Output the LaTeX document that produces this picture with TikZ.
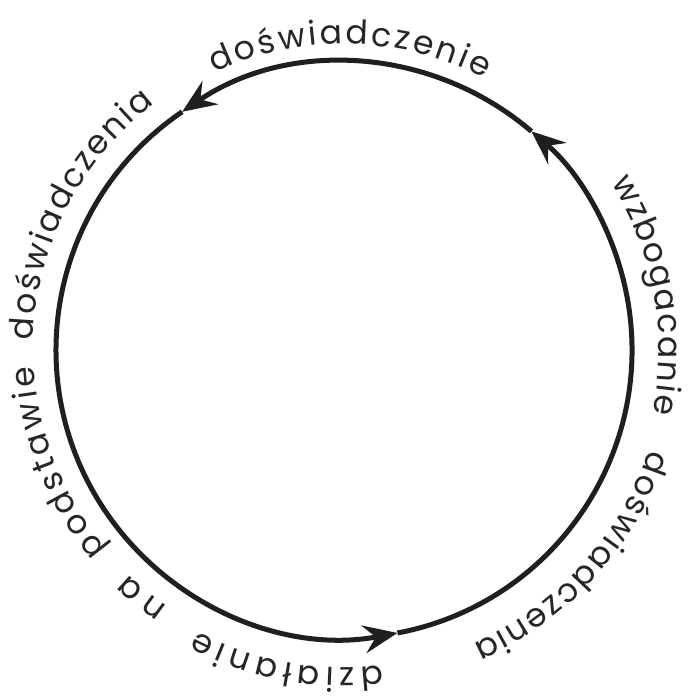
\documentclass[tikz,border=0pt]{standalone}
\usepackage{fontspec}
\newfontfamily\wfont{Poppins}
\usetikzlibrary{arrows.meta,decorations.text}
\newcommand\lblfont{\wfont\fontsize{33}{36}\selectfont}
\tikzset{
  ring/.style={line width=5pt, draw=black!88},
  tipend/.style={-{Stealth[length=34pt,width=28pt,inset=12pt]}},
  wordarc/.style={decorate, decoration={text along path, text={|\lblfont\color{black!85}|#1}, text align=fit to path}}
}
\begin{document}
\begin{tikzpicture}[x=1pt,y=1pt]
\useasboundingbox (0,0) rectangle (688,698);
\coordinate (C) at (344,348);
\path (C) ++(49.4:288pt) coordinate (pA);
\path (C) ++(124.2:288pt) coordinate (pB);
\path (C) ++(-79.3:288pt) coordinate (pC);
% circle with three arrowheads (counter-clockwise)
\draw[ring,tipend] (pC) arc[start angle=-79.3, end angle=49.4, radius=288pt];
\draw[ring,tipend] (pA) arc[start angle=49.4, end angle=124.2, radius=288pt];
\draw[ring,tipend] (pB) arc[start angle=124.2, end angle=280.7, radius=288pt];
% labels along the circle (clockwise, outward)
\path[wordarc={doświadczenie}] (C) ++(115:306pt) arc[start angle=115, end angle=62.6, radius=306pt];
\path[wordarc={wzbogacanie}] (C) ++(32:315pt) arc[start angle=32, end angle=-11.6, radius=315pt];
\path[wordarc={doświadczenia}] (C) ++(-18.1:321pt) arc[start angle=-18.1, end angle=-66.3, radius=321pt];
\path[wordarc={działanie}] (C) ++(276.9:318pt) arc[start angle=276.9, end angle=242.4, radius=318pt];
\path[wordarc={na}] (C) ++(235.5:311pt) arc[start angle=235.5, end angle=226.1, radius=311pt];
\path[wordarc={podstawie}] (C) ++(220:310pt) arc[start angle=220, end angle=183, radius=310pt];
\path[wordarc={doświadczenia}] (C) ++(178.2:311pt) arc[start angle=178.2, end angle=127.5, radius=311pt];
\end{tikzpicture}
\end{document}
